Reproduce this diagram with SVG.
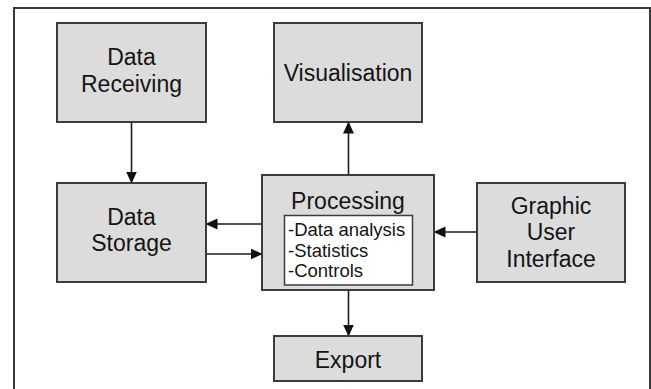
<svg xmlns="http://www.w3.org/2000/svg" width="651" height="389" viewBox="0 0 651 389">
<style>
.box{fill:#dcdcdc;stroke:#3c3c3c;stroke-width:2}
.inner{fill:#ffffff;stroke:#3c3c3c;stroke-width:1.5}
.lbl{font-family:"Liberation Sans",Arial,sans-serif;font-size:23px;fill:#141414;text-anchor:middle}
.lst{font-family:"Liberation Sans",Arial,sans-serif;font-size:18.5px;fill:#141414}
.con{stroke:#1e1e1e;stroke-width:1.6;fill:none;marker-end:url(#ah)}
</style>
<defs>
<marker id="ah" markerUnits="userSpaceOnUse" markerWidth="12" markerHeight="12" viewBox="0 0 12 12" refX="11.5" refY="6" orient="auto">
<path d="M0,0.5 L12,6 L0,11.5 Z" fill="#111"/>
</marker>
</defs>
<rect width="651" height="389" fill="#ffffff"/>
<path d="M14,392 L14,8 L650,8 L650,392" fill="none" stroke="#3a3a3a" stroke-width="2"/>
<g id="connectors">
<line class="con" x1="131.5" y1="122" x2="131.5" y2="183"/>
<line class="con" x1="348.5" y1="175" x2="348.5" y2="122"/>
<line class="con" x1="262" y1="224" x2="206" y2="224"/>
<line class="con" x1="206" y1="254" x2="262" y2="254"/>
<line class="con" x1="477" y1="232" x2="434" y2="232"/>
<line class="con" x1="348.5" y1="290" x2="348.5" y2="336"/>
</g>
<g id="data-receiving">
<rect class="box" x="57" y="23" width="149" height="99"/>
<text class="lbl" x="131.5" y="65">Data</text>
<text class="lbl" x="131.5" y="91.5">Receiving</text>
</g>
<g id="visualisation">
<rect class="box" x="274" y="23" width="148" height="99"/>
<text class="lbl" x="348" y="81">Visualisation</text>
</g>
<g id="data-storage">
<rect class="box" x="57" y="183" width="149" height="99"/>
<text class="lbl" x="131.5" y="225">Data</text>
<text class="lbl" x="131.5" y="251">Storage</text>
</g>
<g id="processing">
<rect class="box" x="262" y="175" width="172" height="115"/>
<text class="lbl" x="348" y="209">Processing</text>
<rect class="inner" x="284.5" y="215.5" width="128" height="69.5"/>
<text class="lst" x="288" y="236">-Data analysis</text>
<text class="lst" x="288" y="256.5">-Statistics</text>
<text class="lst" x="288" y="277">-Controls</text>
</g>
<g id="gui">
<rect class="box" x="477" y="183" width="148" height="99"/>
<text class="lbl" x="551" y="213.5">Graphic</text>
<text class="lbl" x="551" y="240">User</text>
<text class="lbl" x="551" y="266.5">Interface</text>
</g>
<g id="export">
<rect class="box" x="274" y="336" width="148" height="45"/>
<text class="lbl" x="348" y="368">Export</text>
</g>
</svg>
